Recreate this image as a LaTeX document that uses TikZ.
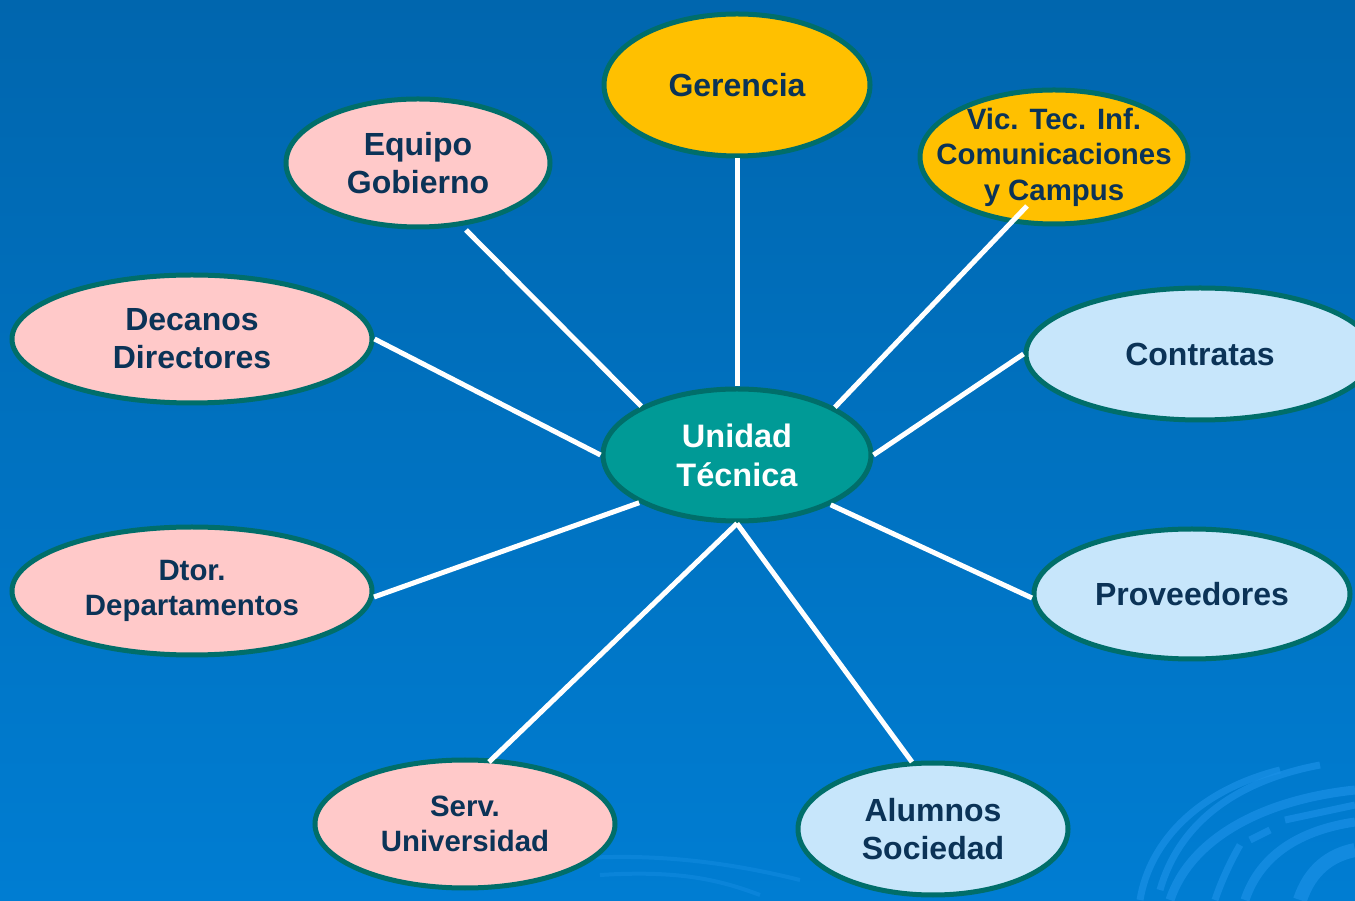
\documentclass[tikz,border=0pt]{standalone}
\usepackage{fontspec}
\setmainfont{Liberation Sans}
\usetikzlibrary{shapes.geometric}
\definecolor{bgtop}{HTML}{0066AE}
\definecolor{bgbot}{HTML}{007DD2}
\definecolor{swirl}{HTML}{1A90E6}
\definecolor{gold}{HTML}{FFC000}
\definecolor{pinkf}{HTML}{FFC9C9}
\definecolor{lblue}{HTML}{C7E6FB}
\definecolor{tealf}{HTML}{009A96}
\definecolor{rim}{HTML}{006E6A}
\definecolor{navy}{HTML}{0B3357}
\tikzset{
  bubble/.style={ellipse, draw=rim, line width=5pt, inner xsep=-30pt, inner ysep=-12pt,
    align=center, text=navy, font=\bfseries\fontsize{32}{38}\selectfont},
  goldb/.style={bubble, fill=gold},
  pinkb/.style={bubble, fill=pinkf},
  blueb/.style={bubble, fill=lblue},
  centreb/.style={bubble, fill=tealf, text=white, font=\bfseries\fontsize{32.5}{39}\selectfont},
  link/.style={draw=white, line width=5pt},
  swirlline/.style={draw=swirl, line width=7pt, opacity=0.7}
}
\begin{document}
\begin{tikzpicture}[x=1pt,y=1pt]
\useasboundingbox (0,0) rectangle (1355,900);
\clip (0,0) rectangle (1355,900);
\shade[top color=bgtop, bottom color=bgbot] (0,0) rectangle (1355,900);
% background swirls
\draw[swirlline] (1160,10) .. controls (1180,80) and (1240,120) .. (1320,135);
\draw[swirlline] (1140,0) .. controls (1150,60) and (1200,110) .. (1280,130);
\draw[swirlline,line width=9pt] (1170,0) .. controls (1190,60) and (1260,100) .. (1355,110);
\draw[swirlline] (1215,0) .. controls (1225,30) and (1240,55) .. (1240,55);
\draw[swirlline] (1250,60) -- (1270,70);
\draw[swirlline] (1285,80) -- (1355,95);
\draw[swirlline,line width=9pt] (1245,0) .. controls (1260,45) and (1300,70) .. (1355,78);
\draw[swirlline,line width=14pt] (1300,0) .. controls (1310,30) and (1330,45) .. (1355,50);
\draw[swirlline,line width=4pt,opacity=0.4] (560,40) .. controls (640,48) and (720,40) .. (800,20);
\draw[swirlline,line width=4pt,opacity=0.4] (600,25) .. controls (680,30) and (720,20) .. (760,5);

% nodes
\node[centreb, minimum width=268pt, minimum height=132pt] (U) at (737,445) {Unidad\\Técnica};
\node[goldb, minimum width=266pt, minimum height=142pt] (G) at (737,815) {Gerencia};
\node[goldb, minimum width=268pt, minimum height=134pt,
  font=\bfseries\fontsize{29.4}{35.5}\selectfont] (V) at (1054,743) {Vic. Tec. Inf.\\Comunicaciones\\y Campus};
\node[pinkb, minimum width=264pt, minimum height=128pt] (E) at (418,737) {Equipo\\Gobierno};
\node[pinkb, minimum width=360pt, minimum height=128pt] (D) at (192,561) {Decanos\\Directores};
\node[pinkb, minimum width=360pt, minimum height=128pt,
  font=\bfseries\fontsize{29.4}{35}\selectfont] (DT) at (192,309) {Dtor.\\Departamentos};
\node[pinkb, minimum width=300pt, minimum height=128pt,
  font=\bfseries\fontsize{29.4}{35}\selectfont] (S) at (465,76) {Serv.\\Universidad};
\node[blueb, minimum width=270pt, minimum height=132pt] (A) at (933,71) {Alumnos\\Sociedad};
\node[blueb, minimum width=316pt, minimum height=130pt] (P) at (1192,306) {Proveedores};
\node[blueb, minimum width=348pt, minimum height=132pt] (C) at (1200,546) {Contratas};

% free ends
\coordinate (eT) at (466,670);
\coordinate (vT) at (1027,694);
\coordinate (dtT) at (374,303);
\coordinate (pT) at (1032,302);
\coordinate (sT) at (489,138);
\coordinate (aT) at (912,138);

% connectors
\draw[link] (G.south) -- (U.north);
\draw[link] (eT) -- (U.153.7);
\draw[link] (vT) -- (U.26.6);
\draw[link] (D.east) -- (U.west);
\draw[link] (C.west) -- (U.east);
\draw[link] (dtT) -- (U.206.8);
\draw[link] (pT) -- (U.332.5);
\draw[link] (sT) -- (U.south);
\draw[link] (aT) -- (U.south);
\end{tikzpicture}
\end{document}
